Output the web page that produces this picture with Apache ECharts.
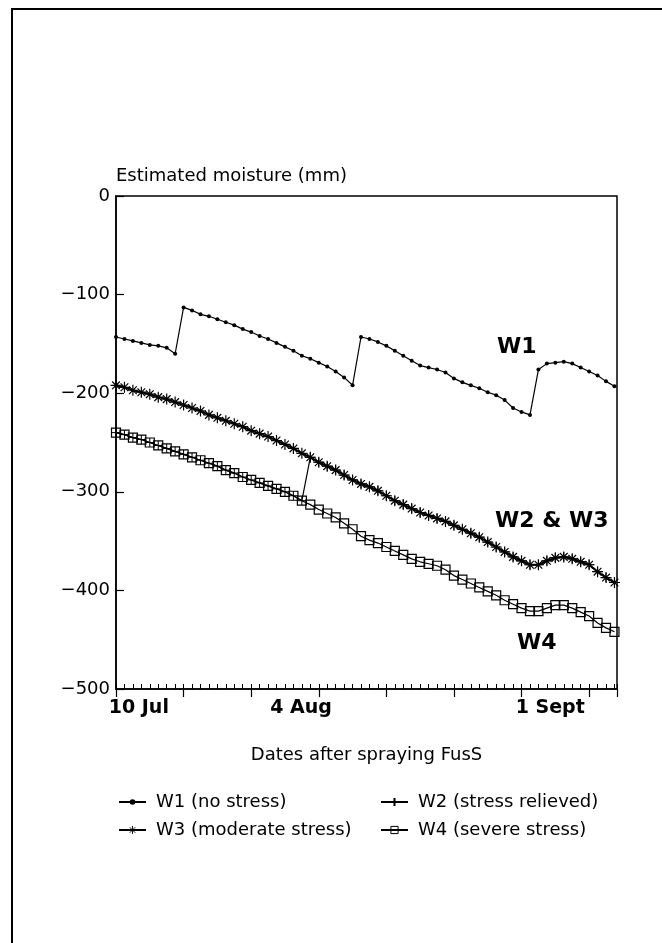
<!DOCTYPE html>
<html>
<head>
<meta charset="utf-8">
<script src="https://cdn.jsdelivr.net/npm/echarts@6/dist/echarts.min.js"></script>
<style>html,body{margin:0;padding:0;background:#fff}#c{width:662px;height:943px}</style>
</head>
<body>
<div id="c"></div>
<script>
// Day index after 10 Jul (one point per day)
const days = [0,1,2,3,4,5,6,7,8,9,10,11,12,13,14,15,16,17,18,19,20,21,22,23,24,25,26,27,28,29,30,31,32,33,34,35,36,37,38,39,40,41,42,43,44,45,46,47,48,49,50,51,52,53,54,55,56,57,58,59];
const w1 = [-143,-145,-147,-149,-151,-152,-154,-160,-113,-116,-120,-122,-125,-128,-131,-135,-138,-142,-145,-149,-153,-157,-162,-165,-169,-173,-178,-184,-192,-143,-145,-148,-152,-157,-162,-167,-172,-174,-176,-179,-185,-189,-192,-195,-199,-202,-207,-215,-219,-222,-176,-170,-169,-168,-170,-174,-178,-182,-188,-193];
const w2 = [-240,-242,-245,-247,-250,-253,-256,-259,-262,-265,-268,-271,-274,-278,-281,-285,-288,-291,-294,-297,-300,-304,-309,-265,-270,-274,-278,-283,-288,-292,-295,-299,-304,-309,-313,-317,-321,-324,-327,-330,-334,-338,-342,-346,-351,-356,-361,-366,-370,-374,-374,-370,-367,-366,-368,-371,-374,-381,-387,-392];
const w3 = [-192,-194,-197,-199,-201,-204,-206,-209,-212,-215,-218,-222,-225,-228,-231,-234,-238,-241,-244,-248,-252,-256,-261,-265,-270,-274,-278,-283,-288,-292,-295,-299,-304,-309,-313,-317,-321,-324,-327,-330,-334,-338,-342,-346,-351,-356,-361,-366,-370,-374,-374,-370,-367,-366,-368,-371,-374,-381,-387,-392];
const w4 = [-240,-242,-245,-247,-250,-253,-256,-259,-262,-265,-268,-271,-274,-278,-281,-285,-288,-291,-294,-297,-300,-304,-309,-313,-318,-322,-326,-332,-338,-345,-349,-352,-356,-360,-364,-368,-371,-373,-375,-379,-385,-389,-393,-397,-401,-405,-410,-414,-418,-421,-421,-418,-415,-415,-418,-422,-426,-433,-438,-442];
const seriesNames = ['W1 (no stress)','W2 (stress relieved)','W3 (moderate stress)','W4 (severe stress)'];
const xTickLabels = ['10 Jul','4 Aug','1 Sept'];
const xTickLabelDays = [2.7, 21.9, 51.4];
const curveLabels = ['W1','W2 & W3','W4'];

const FONT = 'DejaVu Sans';
const pairs = arr => days.map((d,i)=>[d, arr[i]]);
const labelMap = {};
xTickLabelDays.forEach((d,i)=>{ labelMap[d] = xTickLabels[i]; });

const SYM_PLUS = 'path://M5,0L5,10M0,5L10,5';
const SYM_AST = 'path://M5,0L5,10M0,5L10,5M1.5,1.5L8.5,8.5M1.5,8.5L8.5,1.5';
const SYM_SQ = 'path://M0,0L10,0L10,10L0,10Z';

const chart = echarts.init(document.getElementById('c'), null, {renderer:'canvas'});
const legendBase = {
  orient:'horizontal', itemWidth:27, itemHeight:7,
  textStyle:{fontFamily:FONT, fontSize:18, color:'#000', padding:[0,0,0,5]},
  selectedMode:false
};
chart.setOption({
  animation:false,
  backgroundColor:'#fff',
  grid:{left:116, right:45, top:196, bottom:254, show:true, borderColor:'#000', borderWidth:1.5, backgroundColor:'transparent'},
  legend:[
    Object.assign({}, legendBase, {left:113, top:788, data:[seriesNames[0]]}),
    Object.assign({}, legendBase, {left:375, top:788, itemHeight:10, data:[seriesNames[1]]}),
    Object.assign({}, legendBase, {left:113, top:816, itemHeight:10, itemStyle:{borderWidth:0.9}, data:[seriesNames[2]]}),
    Object.assign({}, legendBase, {left:375, top:816, itemHeight:9, itemStyle:{borderWidth:1}, data:[seriesNames[3]]})
  ],
  xAxis:[{
    type:'value', min:0, max:59.3, interval:8,
    name:'Dates after spraying FusS', nameLocation:'middle', nameGap:57,
    nameTextStyle:{fontFamily:FONT, fontSize:18, color:'#000'},
    axisLine:{show:true, onZero:false, lineStyle:{color:'#000', width:1.5}},
    axisTick:{show:true, inside:false, length:8, lineStyle:{color:'#000', width:1.2}},
    axisLabel:{show:true, customValues:xTickLabelDays, formatter:v=>labelMap[v]||'',
      fontFamily:FONT, fontWeight:'bold', fontSize:19, color:'#000', margin:10},
    splitLine:{show:false}
  },{
    type:'value', min:0, max:59.3, interval:1, position:'bottom', gridIndex:0,
    axisLine:{show:false, onZero:false}, axisLabel:{show:false}, splitLine:{show:false},
    axisTick:{show:true, inside:true, length:5, lineStyle:{color:'#000', width:1}}
  }],
  yAxis:{
    type:'value', min:-500, max:0, interval:100,
    name:'Estimated moisture (mm)', nameLocation:'end', nameGap:20,
    nameTextStyle:{fontFamily:FONT, fontSize:18, color:'#000', align:'left', verticalAlign:'middle'},
    axisLine:{show:true, onZero:false, lineStyle:{color:'#000', width:1.5}},
    axisTick:{show:true, inside:true, length:8, lineStyle:{color:'#000', width:1.2}},
    axisLabel:{fontFamily:FONT, fontSize:18, color:'#000', margin:6, formatter:v=>String(v).replace('-','\u2212')},
    splitLine:{show:false}
  },
  series:[
    {name:seriesNames[3], type:'line', data:pairs(w4), symbol:SYM_SQ, symbolSize:9, z:2,
      lineStyle:{color:'#000', width:1.2}, itemStyle:{color:'rgba(0,0,0,0)', borderColor:'#000', borderWidth:1.2}},
    {name:seriesNames[1], type:'line', data:pairs(w2), symbol:SYM_PLUS, symbolSize:9, z:3,
      lineStyle:{color:'#000', width:1.2}, itemStyle:{color:'rgba(0,0,0,0)', borderColor:'#000', borderWidth:1}},
    {name:seriesNames[2], type:'line', data:pairs(w3), symbol:SYM_AST, symbolSize:11, z:4,
      lineStyle:{color:'#000', width:2}, itemStyle:{color:'rgba(0,0,0,0)', borderColor:'#000', borderWidth:1.2}},
    {name:seriesNames[0], type:'line', data:pairs(w1), symbol:'circle', symbolSize:4, z:5,
      lineStyle:{color:'#000', width:1.2}, itemStyle:{color:'#000'}}
  ],
  graphic:[
    {type:'polyline', shape:{points:[[12,943],[12,9],[662,9]]}, style:{stroke:'#000', lineWidth:2, fill:null}},
    {type:'text', left:497, top:336, style:{text:curveLabels[0], font:'bold 22px "DejaVu Sans"', fill:'#000'}},
    {type:'text', left:495, top:510, style:{text:curveLabels[1], font:'bold 22px "DejaVu Sans"', fill:'#000'}},
    {type:'text', left:517, top:632, style:{text:curveLabels[2], font:'bold 22px "DejaVu Sans"', fill:'#000'}}
  ]
});
</script>
</body>
</html>
